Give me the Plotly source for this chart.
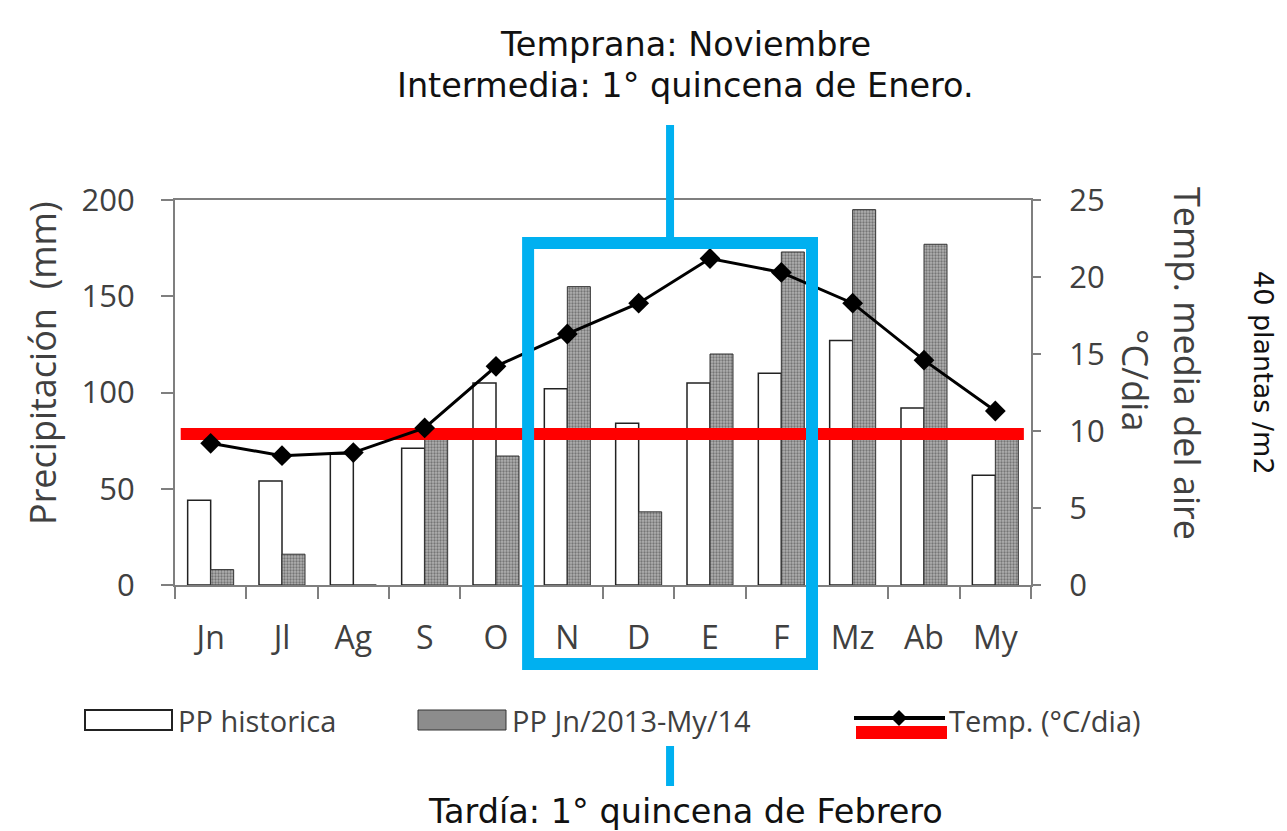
import plotly.graph_objects as go

# ---------------- data ----------------
months = ["Jn", "Jl", "Ag", "S", "O", "N", "D", "E", "F", "Mz", "Ab", "My"]
pp_historica = [44, 54, 68, 71, 105, 102, 84, 105, 110, 127, 92, 57]
pp_2013_14 = [8, 16, 0, 78, 67, 155, 38, 120, 173, 195, 177, 80]
temp_media = [9.2, 8.4, 8.6, 10.2, 14.2, 16.3, 18.3, 21.2, 20.3, 18.3, 14.6, 11.3]
temp_umbral = 9.8                 # red reference line (°C/dia)
umbral_x = (-0.42, 11.4)          # extent of the red line along the month axis
left_ticks = [0, 50, 100, 150, 200]
right_ticks = [0, 5, 10, 15, 20, 25]
box_first, box_last = "N", "F"    # months framed by the blue box

txt_top1 = "Temprana: Noviembre"
txt_top2 = "Intermedia: 1° quincena de Enero."
txt_bottom = "Tardía: 1° quincena de Febrero"
txt_right = "40 plantas /m2"
leg_names = ["PP historica", "PP Jn/2013-My/14", "Temp. (°C/dia)"]

idx = list(range(len(months)))

# ---------------- style ----------------
AX = "#7f7f7f"
TXT = "#404040"
BLUE = "#00B0F0"
TICKFONT = dict(family="Open Sans", size=31, color=TXT)
MONTHFONT = dict(family="Open Sans", size=32, color=TXT)
ANNFONT = dict(family="DejaVu Sans", size=33.5, color="#111111")

fig = go.Figure()

fig.add_trace(go.Bar(
    x=idx, y=pp_historica, name=leg_names[0],
    marker=dict(color="white", line=dict(color="#222222", width=1.5)),
    showlegend=False,
))
fig.add_trace(go.Bar(
    x=idx, y=pp_2013_14, name=leg_names[1],
    marker=dict(color="#8c8c8c", line=dict(color="#333333", width=1),
                pattern=dict(shape=".", fgcolor="#3a3a3a", bgcolor="#b0b0b0",
                             size=3, solidity=0.45)),
    showlegend=False,
))
fig.add_trace(go.Scatter(
    x=list(umbral_x), y=[temp_umbral, temp_umbral], yaxis="y2", mode="lines",
    line=dict(color="#ff0000", width=12), showlegend=False, hoverinfo="skip",
))
fig.add_trace(go.Scatter(
    x=idx, y=temp_media, yaxis="y2", name=leg_names[2], mode="lines+markers",
    line=dict(color="black", width=3),
    marker=dict(symbol="diamond", size=16, color="black"),
    showlegend=False,
))

# ---------------- geometry helpers (plot area 167..1023 x 192..577 px) ----------------
PL, PR, PT, PB = 167, 1023, 192, 577
def px_x(px):
    return (px - PL) / (PR - PL)
def px_y(py):
    return (PB - py) / (PB - PT)

shapes = []
i0 = months.index(box_first)
i1 = months.index(box_last)
bx0, bx1 = i0 - 0.55, i1 + 0.43
shapes.append(dict(type="rect", xref="x", yref="paper", x0=bx0, x1=bx1,
                   y0=px_y(656), y1=px_y(235), line=dict(color=BLUE, width=12),
                   fillcolor="rgba(0,0,0,0)", layer="above"))
bmid = (bx0 + bx1) / 2
shapes.append(dict(type="line", xref="x", yref="paper", x0=bmid, x1=bmid,
                   y0=px_y(229), y1=px_y(117), line=dict(color=BLUE, width=8)))
shapes.append(dict(type="line", xref="x", yref="paper", x0=bmid, x1=bmid,
                   y0=px_y(778), y1=px_y(738), line=dict(color=BLUE, width=8)))

# legend (drawn manually)
shapes.append(dict(type="rect", xref="paper", yref="paper", x0=px_x(77), x1=px_x(164),
                   y0=px_y(722), y1=px_y(702), fillcolor="white",
                   line=dict(color="#222222", width=2)))
shapes.append(dict(type="rect", xref="paper", yref="paper", x0=px_x(410), x1=px_x(498),
                   y0=px_y(722), y1=px_y(702), fillcolor="#8c8c8c",
                   line=dict(color="#333333", width=1)))
shapes.append(dict(type="line", xref="paper", yref="paper", x0=px_x(846), x1=px_x(937),
                   y0=px_y(710), y1=px_y(710), line=dict(color="black", width=4)))
dcx, dcy, dh = 891, 710, 8
shapes.append(dict(type="path", xref="paper", yref="paper", fillcolor="black",
                   line=dict(width=0),
                   path=(f"M {px_x(dcx-dh)},{px_y(dcy)} L {px_x(dcx)},{px_y(dcy-dh)} "
                         f"L {px_x(dcx+dh)},{px_y(dcy)} L {px_x(dcx)},{px_y(dcy+dh)} Z")))
shapes.append(dict(type="rect", xref="paper", yref="paper", x0=px_x(848), x1=px_x(939),
                   y0=px_y(731), y1=px_y(718), fillcolor="#ff0000", line=dict(width=0)))

ann = []
LEGFONT = dict(family="Open Sans", size=29, color=TXT)
def add_ann(px, py, text, font, angle=0, xanchor="center"):
    ann.append(dict(x=px_x(px), y=px_y(py), xref="paper", yref="paper", text=text,
                    showarrow=False, xanchor=xanchor, yanchor="middle",
                    textangle=angle, font=font))

add_ann(168, 712, leg_names[0], LEGFONT, xanchor="left")
add_ann(502, 712, leg_names[1], LEGFONT, xanchor="left")
add_ann(939, 712, leg_names[2], LEGFONT, xanchor="left")

add_ann(677, 36, txt_top1, ANNFONT)
add_ann(677, 77, txt_top2, ANNFONT)
add_ann(677, 803, txt_bottom, ANNFONT)
add_ann(1256, 365, txt_right, dict(family="DejaVu Sans", size=27, color="#111111"), angle=90)

TITLEFONT = dict(family="Open Sans", size=36, color=TXT)
add_ann(34, 355, "Precipitación  (mm)", TITLEFONT, angle=-90)
add_ann(1180, 355, "Temp. media del aire", TITLEFONT, angle=90)
add_ann(1128, 372, "°C/dia", TITLEFONT, angle=90)

fig.update_layout(
    width=1287, height=831,
    margin=dict(l=PL, r=1287 - PR, t=PT, b=831 - PB),
    paper_bgcolor="white", plot_bgcolor="white",
    barmode="group", bargap=0.355, bargroupgap=0,
    shapes=shapes, annotations=ann,
    xaxis=dict(range=[-0.5, len(months) - 0.5], tickmode="array", tickvals=idx,
               ticktext=months, ticks="", showgrid=False, zeroline=False,
               showline=True, linecolor=AX, linewidth=2, mirror=True,
               tickfont=MONTHFONT, ticklabelstandoff=24,
               minor=dict(tick0=-0.5, dtick=1, ticks="outside", ticklen=12,
                          tickcolor=AX, tickwidth=2, showgrid=False)),
    yaxis=dict(range=[0, 200], tickvals=left_ticks, showgrid=False, zeroline=False,
               showline=True, linecolor=AX, linewidth=2, ticks="outside", ticklen=12,
               tickcolor=AX, tickwidth=2, tickfont=TICKFONT, ticklabelstandoff=20),
    yaxis2=dict(range=[0, 25], tickvals=right_ticks, overlaying="y", side="right",
                anchor="x", showgrid=False, zeroline=False, showline=True,
                linecolor=AX, linewidth=2, ticks="outside", ticklen=8, tickcolor=AX,
                tickwidth=2, tickfont=TICKFONT, ticklabelstandoff=22),
)

fig.write_html("out.html")
